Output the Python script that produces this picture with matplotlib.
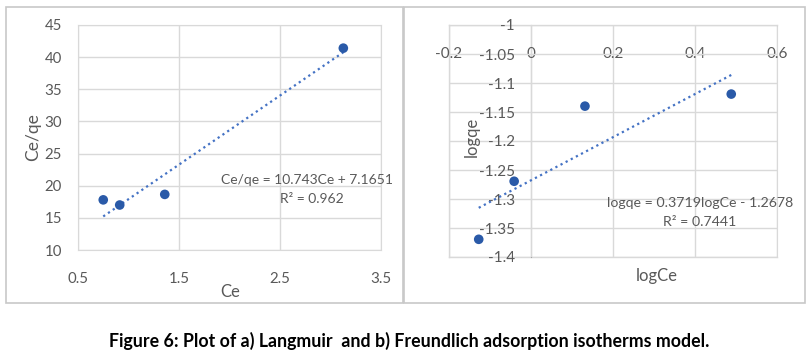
import matplotlib
matplotlib.use("Agg")
import matplotlib.pyplot as plt
import matplotlib.patches as patches
import numpy as np

plt.rcParams['font.family'] = ['Lato', 'DejaVu Sans']

# ---- data ----
ce = [0.75, 0.913, 1.359, 3.127]
ce_qe = [17.8, 17.0, 18.65, 41.4]
lang_slope = 10.743
lang_intercept = 7.1651
lang_eq = "Ce/qe = 10.743Ce + 7.1651"
lang_r2 = "R² = 0.962"

log_ce = [-0.1275, -0.0411, 0.1316, 0.4884]
log_qe = [-1.3695, -1.2694, -1.1399, -1.1191]
fr_slope = 0.3719
fr_intercept = -1.2678
fr_eq = "logqe = 0.3719logCe - 1.2678"
fr_r2 = "R² = 0.7441"

left_xticks = [0.5, 1.5, 2.5, 3.5]
left_yticks = [10, 15, 20, 25, 30, 35, 40, 45]
right_xticks = [-0.2, 0, 0.2, 0.4, 0.6]
right_yticks = [-1, -1.05, -1.1, -1.15, -1.2, -1.25, -1.3, -1.35, -1.4]

title = "Figure 6: Plot of a) Langmuir  and b) Freundlich adsorption isotherms model."

TXT = '#595959'
GRID = '#d9d9d9'
AXC = '#a6a6a6'
MK = '#2a5aa8'
TL = '#4472c4'

W, H = 811, 355
fig = plt.figure(figsize=(W / 100, H / 100), dpi=100)

def frac(x0, y0, x1, y1):
    return [x0 / W, 1 - y1 / H, (x1 - x0) / W, (y1 - y0) / H]

# frames
for (x0, x1) in [(6, 403), (404, 805)]:
    fig.patches.append(patches.Rectangle((x0 / W, 1 - 303 / H), (x1 - x0) / W, (303 - 7) / H,
                                         transform=fig.transFigure, fill=False,
                                         edgecolor='#c8c8c8', lw=1.2))

# ---- left panel ----
ax1 = fig.add_axes(frac(78, 25, 381, 250))
ax1.set_xlim(0.5, 3.5)
ax1.set_ylim(10, 45)
ax1.set_xticks(left_xticks)
ax1.set_xticklabels(['0.5', '1.5', '2.5', '3.5'])
ax1.set_yticks(left_yticks)
ax1.grid(True, color=GRID, lw=1)
ax1.set_axisbelow(True)
for s in ax1.spines.values():
    s.set_color(GRID)
    s.set_zorder(0.3)
ax1.tick_params(axis='x', length=0, pad=15.5, labelsize=10.8, labelcolor=TXT)
ax1.tick_params(axis='y', length=0, pad=11.5, labelsize=10.8, labelcolor=TXT)
ax1.scatter(ce, ce_qe, s=48, color=MK, zorder=3, edgecolors='none')
xs = np.array([min(ce), max(ce)])
ax1.plot(xs, lang_slope * xs + lang_intercept, color=TL, lw=1.6,
         linestyle=(0, (1, 1.6)), zorder=2)
ax1.set_xlabel('Ce', fontsize=12, color=TXT)
ax1.xaxis.set_label_coords(0.5017, -0.187)
ax1.set_ylabel('Ce/qe', fontsize=12.5, color=TXT)
ax1.yaxis.set_label_coords(-0.1485, 0.502)
ax1.xaxis.label.set_va('center')
ax1.yaxis.label.set_va('center')
ax1.text(0.756, 0.311, lang_eq, transform=ax1.transAxes, ha='center', va='center',
         fontsize=10, color=TXT)
ax1.text(0.772, 0.227, lang_r2, transform=ax1.transAxes, ha='center', va='center',
         fontsize=10, color=TXT)

# ---- right panel ----
ax2 = fig.add_axes(frac(449, 25, 777, 257))
ax2.set_xlim(-0.2, 0.6)
ax2.set_ylim(-1.4, -1.0)
ax2.set_xticks(right_xticks)
ax2.set_xticklabels(['-0.2', '0', '0.2', '0.4', '0.6'])
ax2.set_yticks(right_yticks)
ax2.set_yticklabels(['-1', '-1.05', '-1.1', '-1.15', '-1.2', '-1.25', '-1.3', '-1.35', '-1.4'])
ax2.grid(True, color=GRID, lw=1)
ax2.set_axisbelow(True)
ax2.spines['left'].set_position(('data', 0))
ax2.spines['bottom'].set_position(('data', -1.0))
ax2.spines['left'].set_color(AXC)
ax2.spines['bottom'].set_color(AXC)
ax2.spines['top'].set_color(GRID)
ax2.spines['right'].set_color(GRID)
for s in ax2.spines.values():
    s.set_zorder(0.3)
ax2.plot([-0.2, -0.2], [-1.4, -1.0], color=GRID, lw=1, clip_on=False, zorder=0.2)
ax2.plot([-0.2, 0.6], [-1.4, -1.4], color=GRID, lw=1, clip_on=False, zorder=0.2)
ax2.tick_params(axis='x', length=0, pad=15.5, labelsize=11, labelcolor=TXT)
ax2.tick_params(axis='y', length=0, pad=11.5, labelsize=11, labelcolor=TXT)
ax2.scatter(log_ce, log_qe, s=48, color=MK, zorder=3, edgecolors='none', clip_on=False)
xs2 = np.array([min(log_ce), max(log_ce)])
ax2.plot(xs2, fr_slope * xs2 + fr_intercept, color=TL, lw=1.6,
         linestyle=(0, (1, 1.6)), zorder=2)
ax2.set_xlabel('logCe', fontsize=12, color=TXT)
ax2.xaxis.set_label_coords(0.634, -0.082)
ax2.set_ylabel('logqe', fontsize=12, color=TXT)
ax2.yaxis.set_label_coords(0.070, 0.517)
ax2.xaxis.label.set_va('center')
ax2.yaxis.label.set_va('center')
ax2.text(0.765, 0.233, fr_eq, transform=ax2.transAxes, ha='center', va='center',
         fontsize=10.2, color=TXT)
ax2.text(0.765, 0.151, fr_r2, transform=ax2.transAxes, ha='center', va='center',
         fontsize=10.2, color=TXT)

fig.text(409 / W, 1 - 341 / H, title, ha='center', va='center', fontsize=12.8,
         fontweight='bold', color='black')

fig.savefig('out.png', dpi=100)
